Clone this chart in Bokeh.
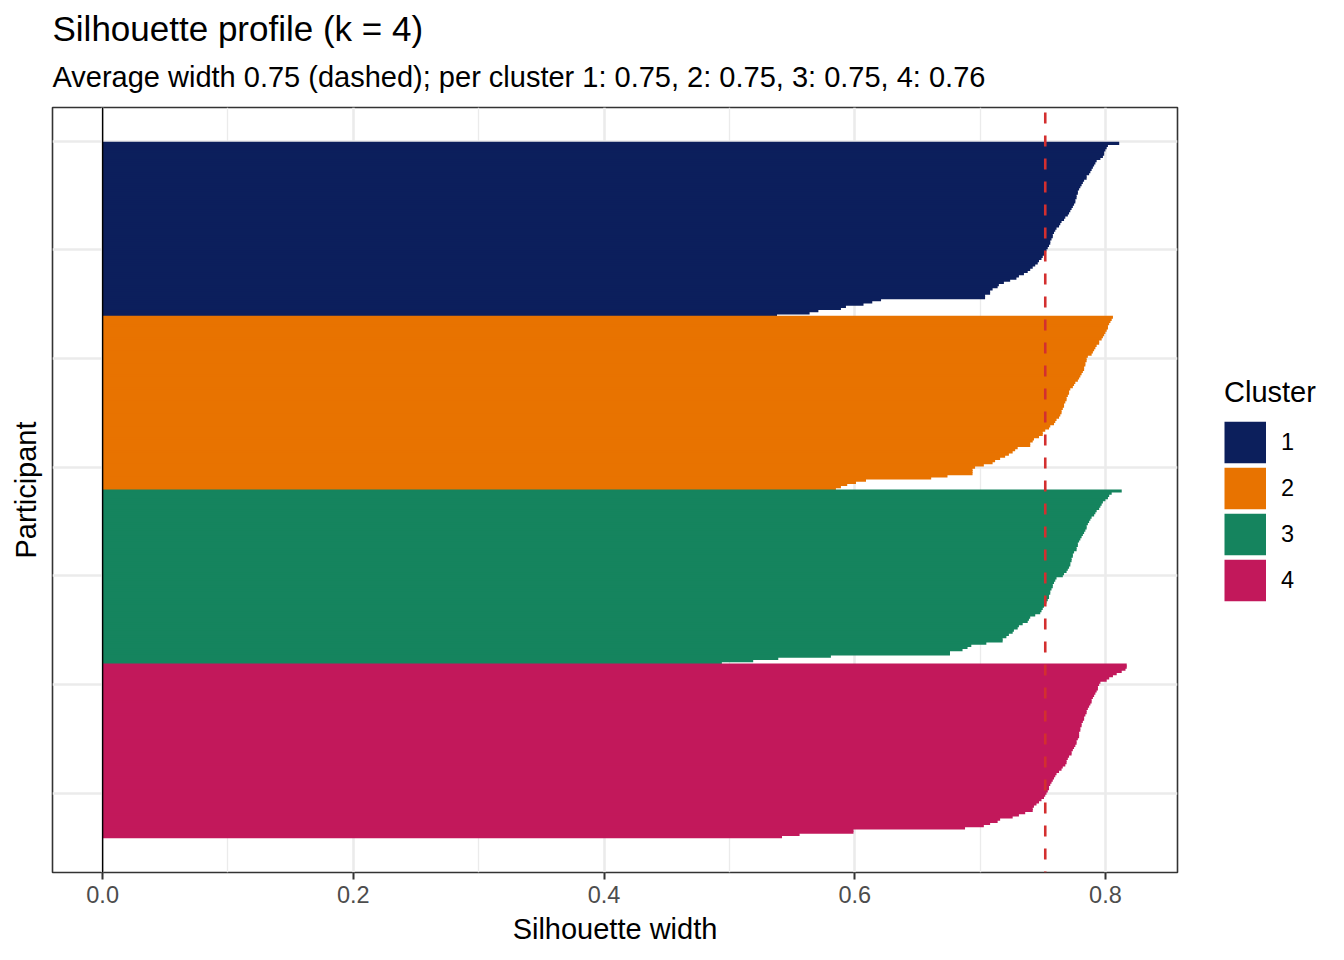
from bokeh.plotting import figure
from bokeh.models import (Range1d, FixedTicker, Legend, LegendItem, Span, Title,
                          ColumnDataSource)
from bokeh.embed import file_html
from bokeh.resources import INLINE

# ---------------- data ----------------
CLUSTERS = ["1", "2", "3", "4"]
COLORS = ["#0C1F5C", "#E87300", "#15845E", "#C2185B"]

SIL_1 = [0.811, 0.802, 0.801, 0.800, 0.799, 0.799, 0.798, 0.796, 0.793, 0.792,
         0.791, 0.790, 0.789, 0.788, 0.787, 0.785, 0.785, 0.783, 0.782, 0.781,
         0.780, 0.779, 0.778, 0.778, 0.777, 0.777, 0.776, 0.776, 0.775, 0.774,
         0.773, 0.772, 0.771, 0.770, 0.768, 0.767, 0.765, 0.764, 0.763, 0.761,
         0.760, 0.759, 0.758, 0.758, 0.757, 0.756, 0.756, 0.755, 0.754, 0.753,
         0.752, 0.751, 0.750, 0.749, 0.747, 0.746, 0.744, 0.742, 0.740, 0.738,
         0.735, 0.731, 0.729, 0.724, 0.719, 0.715, 0.714, 0.710, 0.708, 0.708,
         0.704, 0.704, 0.621, 0.614, 0.607, 0.593, 0.589, 0.571, 0.564, 0.538]

SIL_2 = [0.806, 0.805, 0.804, 0.803, 0.802, 0.802, 0.801, 0.800, 0.799, 0.798,
         0.797, 0.795, 0.795, 0.793, 0.792, 0.791, 0.790, 0.789, 0.786, 0.785,
         0.785, 0.784, 0.784, 0.783, 0.783, 0.782, 0.781, 0.780, 0.779, 0.778,
         0.776, 0.775, 0.774, 0.772, 0.771, 0.771, 0.770, 0.769, 0.769, 0.768,
         0.767, 0.767, 0.766, 0.765, 0.765, 0.764, 0.763, 0.761, 0.760, 0.759,
         0.756, 0.755, 0.752, 0.750, 0.750, 0.747, 0.743, 0.742, 0.740, 0.740,
         0.730, 0.728, 0.726, 0.723, 0.720, 0.716, 0.712, 0.710, 0.703, 0.696,
         0.694, 0.694, 0.694, 0.674, 0.661, 0.609, 0.601, 0.594, 0.589, 0.585]

SIL_3 = [0.813, 0.805, 0.803, 0.802, 0.800, 0.798, 0.797, 0.796, 0.795, 0.793,
         0.792, 0.791, 0.789, 0.788, 0.787, 0.786, 0.785, 0.785, 0.784, 0.783,
         0.782, 0.781, 0.780, 0.779, 0.778, 0.778, 0.777, 0.777, 0.775, 0.774,
         0.774, 0.773, 0.773, 0.772, 0.772, 0.771, 0.770, 0.769, 0.767, 0.766,
         0.761, 0.760, 0.759, 0.758, 0.758, 0.757, 0.756, 0.756, 0.755, 0.755,
         0.754, 0.753, 0.752, 0.751, 0.750, 0.749, 0.748, 0.744, 0.740, 0.739,
         0.738, 0.734, 0.731, 0.730, 0.727, 0.726, 0.723, 0.721, 0.718, 0.718,
         0.705, 0.693, 0.690, 0.686, 0.676, 0.676, 0.581, 0.539, 0.519, 0.494]

SIL_4 = [0.817, 0.817, 0.816, 0.813, 0.809, 0.806, 0.803, 0.801, 0.796, 0.795,
         0.794, 0.794, 0.793, 0.792, 0.791, 0.790, 0.789, 0.789, 0.788, 0.787,
         0.786, 0.785, 0.785, 0.784, 0.783, 0.783, 0.782, 0.781, 0.781, 0.780,
         0.780, 0.779, 0.779, 0.779, 0.778, 0.777, 0.777, 0.776, 0.775, 0.774,
         0.773, 0.773, 0.771, 0.770, 0.769, 0.769, 0.768, 0.766, 0.765, 0.763,
         0.761, 0.760, 0.759, 0.758, 0.757, 0.756, 0.755, 0.755, 0.754, 0.753,
         0.752, 0.751, 0.749, 0.747, 0.745, 0.743, 0.742, 0.742, 0.736, 0.731,
         0.726, 0.716, 0.714, 0.708, 0.703, 0.688, 0.599, 0.599, 0.556, 0.542]

AVG_WIDTH = 0.752
X_TICKS = [0.0, 0.2, 0.4, 0.6, 0.8]
X_MINOR = [0.1, 0.3, 0.5, 0.7]
X_TICK_LABELS = ["0.0", "0.2", "0.4", "0.6", "0.8"]
Y_GRID = [0, 50, 100, 150, 200, 250, 300]

TITLE = "Silhouette profile (k = 4)"
SUBTITLE = "Average width 0.75 (dashed); per cluster 1: 0.75, 2: 0.75, 3: 0.75, 4: 0.76"
X_LABEL = "Silhouette width"
Y_LABEL = "Participant"
LEGEND_TITLE = "Cluster"

FONT = "Liberation Sans"
GRID = "#EBEBEB"

# ---------------- figure ----------------
all_sil = (SIL_1, SIL_2, SIL_3, SIL_4)
n_total = sum(len(s) for s in all_sil)
y_pad = 0.05 * n_total
x_max = max(max(s) for s in all_sil)

p = figure(frame_width=1125, frame_height=765, title=None,
           x_range=Range1d(-0.04, x_max + 0.0405),
           y_range=Range1d(n_total + 0.5 + y_pad, 0.5 - y_pad),
           output_backend="svg", toolbar_location=None,
           min_border_left=52, min_border_right=160,
           min_border_top=107, min_border_bottom=82,
           background_fill_color="white", border_fill_color="white",
           outline_line_color="#333333", outline_line_width=1.6)

bar_renderers = []
key_renderers = []
offset = 0
for name, color, sil in zip(CLUSTERS, COLORS, all_sil):
    ys = [offset + i + 1 for i in range(len(sil))]
    src = ColumnDataSource(dict(y=ys, width=sil))
    # slight overlap between neighbouring bars hides anti-aliasing seams
    r = p.hbar(y="y", left=0, right="width", height=1.4, source=src,
               fill_color=color, line_color=None)
    bar_renderers.append(r)
    # hidden twin renderer on the same data: only used to draw a full-size
    # square legend key (a thick butt-capped line fills the whole key box)
    k = p.line(x="width", y="y", source=src, line_color=color,
               line_width=41.5, line_cap="butt", visible=False)
    key_renderers.append(k)
    offset += len(sil)

p.add_layout(Span(location=0, dimension="height", line_color="black",
                  line_width=1.4))
p.add_layout(Span(location=AVG_WIDTH, dimension="height", line_color="#D32F2F",
                  line_width=2.6, line_dash="11 12", line_dash_offset=18))

# axes
xa = p.xaxis[0]
xa.ticker = FixedTicker(ticks=X_TICKS, minor_ticks=X_MINOR)
xa.major_label_overrides = {t: l for t, l in zip(X_TICKS, X_TICK_LABELS)}
xa.axis_label = X_LABEL
xa.axis_label_text_font = FONT
xa.axis_label_text_font_size = "29px"
xa.axis_label_text_font_style = "normal"
xa.axis_label_text_color = "black"
xa.axis_label_standoff = 7
xa.major_label_text_font = FONT
xa.major_label_text_font_size = "23.5px"
xa.major_label_text_color = "#4D4D4D"
xa.major_label_standoff = 6
xa.major_tick_line_color = "#333333"
xa.major_tick_line_width = 2
xa.major_tick_out = 7
xa.major_tick_in = 0
xa.minor_tick_line_color = None
xa.axis_line_color = None

ya = p.yaxis[0]
ya.ticker = FixedTicker(ticks=Y_GRID, minor_ticks=[])
ya.major_label_overrides = {t: "" for t in Y_GRID}
ya.major_label_text_font_size = "1px"
ya.major_label_standoff = 0
ya.major_tick_line_color = None
ya.major_tick_out = 0
ya.major_tick_in = 0
ya.minor_tick_line_color = None
ya.axis_line_color = None
ya.axis_label = Y_LABEL
ya.axis_label_text_font = FONT
ya.axis_label_text_font_size = "29px"
ya.axis_label_text_font_style = "normal"
ya.axis_label_text_color = "black"
ya.axis_label_standoff = 11

p.xgrid.grid_line_color = GRID
p.xgrid.grid_line_width = 2.6
p.xgrid.minor_grid_line_color = GRID
p.xgrid.minor_grid_line_width = 1.3
p.ygrid.grid_line_color = GRID
p.ygrid.grid_line_width = 2.6
p.ygrid.minor_grid_line_color = None

# titles (subtitle nearest the frame, title above it)
p.add_layout(Title(text=SUBTITLE, text_font=FONT, text_font_size="29px",
                   text_font_style="normal", text_color="black", align="left",
                   vertical_align="top", offset=0, standoff=26), "above")
p.add_layout(Title(text=TITLE, text_font=FONT, text_font_size="35px",
                   text_font_style="normal", text_color="black", align="left",
                   vertical_align="bottom", offset=0, standoff=0), "above")

# legend (right side, outside the panel)
items = [LegendItem(label=name, renderers=[b, k])
         for name, b, k in zip(CLUSTERS, bar_renderers, key_renderers)]
legend = Legend(items=items, location=(47, 269), title=LEGEND_TITLE,
                title_text_font=FONT, title_text_font_size="29px",
                title_text_font_style="normal", title_text_color="black",
                title_standoff=10,
                label_text_font=FONT, label_text_font_size="23.5px",
                label_text_color="black",
                glyph_width=42, glyph_height=46, label_standoff=15,
                spacing=0, padding=0, margin=0,
                border_line_color=None, background_fill_alpha=0)
p.add_layout(legend, "right")

open("out.html", "w").write(file_html(p, INLINE))
